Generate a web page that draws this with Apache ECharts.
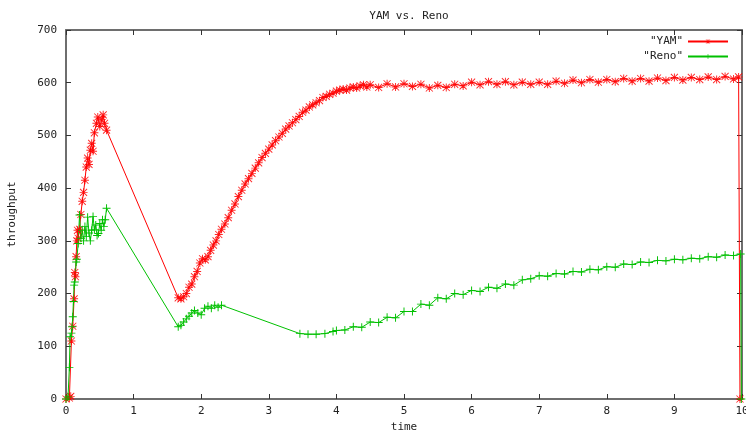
<!DOCTYPE html>
<html>
<head>
<meta charset="utf-8">
<script src="https://cdn.jsdelivr.net/npm/echarts@6/dist/echarts.min.js"></script>
<style>
  html, body { margin: 0; padding: 0; background: #fff; }
  #main { width: 746px; height: 432px; }
</style>
</head>
<body>
<div id="main"></div>
<script>
// YAM vs. Reno - throughput over time
var yamTime = [0, 0.05, 0.07, 0.08, 0.1, 0.12, 0.13, 0.14, 0.15, 0.16, 0.17, 0.18, 0.2, 0.22, 0.24, 0.26, 0.28, 0.3, 0.32, 0.34, 0.36, 0.38, 0.4, 0.42, 0.45, 0.47, 0.5, 0.53, 0.55, 0.57, 0.6,
    1.66, 1.7, 1.74, 1.78, 1.82, 1.86, 1.9, 1.94, 1.98, 2.02, 2.06, 2.1, 2.14, 2.18, 2.22, 2.26, 2.3, 2.35, 2.4, 2.45, 2.5, 2.55, 2.6, 2.65, 2.7, 2.75, 2.8, 2.85, 2.9, 2.95,
    3.0, 3.05, 3.1, 3.15, 3.2, 3.25, 3.3, 3.35, 3.4, 3.45, 3.5, 3.55, 3.6, 3.65, 3.7, 3.75, 3.8, 3.85, 3.9, 3.95, 4.0, 4.05, 4.1, 4.15, 4.2, 4.25, 4.3, 4.35, 4.4, 4.45,
    4.5, 4.625, 4.75, 4.875, 5.0, 5.125, 5.25, 5.375, 5.5, 5.625, 5.75, 5.875, 6.0, 6.125, 6.25, 6.375, 6.5, 6.625, 6.75, 6.875,
    7.0, 7.125, 7.25, 7.375, 7.5, 7.625, 7.75, 7.875, 8.0, 8.125, 8.25, 8.375, 8.5, 8.625, 8.75, 8.875,
    9.0, 9.125, 9.25, 9.375, 9.5, 9.625, 9.75, 9.875, 9.95, 9.97];
var yamValues = [0, 2, 5, 110, 138, 190, 240, 232, 270, 300, 320, 305, 322, 350, 375, 392, 415, 440, 457, 445, 472, 485, 470, 505, 523, 535, 517, 530, 539, 523, 510,
    192, 190, 194, 200, 212, 218, 232, 242, 258, 266, 264, 270, 282, 292, 300, 312, 322, 332, 344, 358, 370, 384, 396, 408, 418, 428, 438, 448, 458, 466,
    474, 482, 490, 497, 504, 512, 518, 524, 530, 536, 544, 548, 554, 558, 562, 566, 572, 574, 578, 580, 584, 586, 588, 586, 590, 592, 590, 594, 596, 592,
    596, 591, 598, 592, 598, 593, 597, 590, 595, 591, 597, 594, 601, 596, 602, 597, 602, 596, 601, 597,
    601, 597, 603, 599, 605, 600, 606, 601, 606, 602, 608, 603, 608, 603, 609, 604,
    610, 605, 610, 606, 611, 606, 612, 607, 611, 0];

var renoTime = [0, 0.03, 0.05, 0.06, 0.08, 0.09, 0.1, 0.11, 0.12, 0.13, 0.15, 0.16, 0.18, 0.2, 0.22, 0.24, 0.26, 0.28, 0.3, 0.32, 0.34, 0.36, 0.38, 0.4, 0.42, 0.44, 0.46, 0.48, 0.5, 0.52, 0.54, 0.56, 0.58, 0.6,
    1.66, 1.7, 1.74, 1.78, 1.82, 1.86, 1.9, 1.95, 2.0, 2.05, 2.1, 2.15, 2.2, 2.25, 2.3,
    3.46, 3.58, 3.7, 3.83, 3.95,
    4.0, 4.125, 4.25, 4.375, 4.5, 4.625, 4.75, 4.875, 5.0, 5.125, 5.25, 5.375, 5.5, 5.625, 5.75, 5.875,
    6.0, 6.125, 6.25, 6.375, 6.5, 6.625, 6.75, 6.875, 7.0, 7.125, 7.25, 7.375, 7.5, 7.625, 7.75, 7.875,
    8.0, 8.125, 8.25, 8.375, 8.5, 8.625, 8.75, 8.875, 9.0, 9.125, 9.25, 9.375, 9.5, 9.625, 9.75, 9.875, 9.98, 9.99];
var renoValues = [0, 4, 60, 118, 125, 137, 156, 185, 216, 222, 260, 265, 295, 349, 305, 320, 300, 327, 308, 345, 315, 300, 320, 346, 321, 330, 310, 314, 333, 320, 340, 327, 340, 362,
    137, 140, 146, 152, 157, 163, 168, 163, 160, 172, 176, 172, 178, 174, 178,
    124, 123, 123, 124, 128,
    130, 131, 137, 136, 146, 145, 155, 154, 166, 166, 180, 178, 192, 190, 200, 198,
    206, 204, 212, 210, 218, 216, 226, 228, 234, 233, 238, 237, 242, 241, 246, 245,
    251, 250, 256, 255, 260, 259, 263, 262, 265, 264, 267, 266, 270, 269, 273, 272, 275, 0];

function zip(t, v) {
    var out = [];
    for (var i = 0; i < t.length; i++) { out.push([t[i], v[i]]); }
    return out;
}

var starPath = 'path://M4.4,0H5.6V4.4H10V5.6H5.6V10H4.4V5.6H0V4.4H4.4Z M1,0.2L9.8,9L9,9.8L0.2,1Z M9,0.2L9.8,1L1,9.8L0.2,9Z';
var plusPath = 'path://M4.4,0H5.6V4.4H10V5.6H5.6V10H4.4V5.6H0V4.4H4.4Z';

var monoFont = 'DejaVu Sans Mono';
var axisColor = '#6e6e6e';

var myChart = echarts.init(document.getElementById('main'));
myChart.setOption({
    animation: false,
    backgroundColor: '#ffffff',
    title: {
        text: 'YAM vs. Reno',
        left: 404,
        top: 6,
        textAlign: 'center',
        textStyle: { fontFamily: monoFont, fontSize: 11, fontWeight: 'normal', color: '#222' }
    },
    legend: {
        orient: 'vertical',
        right: 12,
        top: 31,
        align: 'right',
        itemWidth: 40,
        itemHeight: 6,
        itemGap: 4,
        textStyle: { fontFamily: monoFont, fontSize: 11, color: '#222' },
        data: ['"YAM"', '"Reno"']
    },
    grid: { left: 66, right: 4, top: 30, bottom: 33, outerBoundsMode: 'none', containLabel: false },
    xAxis: [{
        type: 'value',
        min: 0, max: 10, interval: 1,
        name: 'time',
        nameLocation: 'middle',
        nameGap: 19,
        nameTextStyle: { fontFamily: monoFont, fontSize: 11, color: '#222' },
        axisLine: { show: true, onZero: false, lineStyle: { color: axisColor, width: 2 } },
        axisTick: { inside: true, length: 5, lineStyle: { color: '#333' } },
        axisLabel: { fontFamily: monoFont, fontSize: 11, color: '#222', margin: 7 },
        splitLine: { show: false }
    }, {
        type: 'value',
        position: 'top',
        min: 0, max: 10, interval: 1,
        axisLine: { show: true, onZero: false, lineStyle: { color: axisColor, width: 2 } },
        axisTick: { inside: true, length: 5, lineStyle: { color: '#333' } },
        axisLabel: { show: false },
        splitLine: { show: false }
    }],
    yAxis: [{
        type: 'value',
        min: 0, max: 700, interval: 100,
        name: 'throughput',
        nameLocation: 'middle',
        nameGap: 48,
        nameTextStyle: { fontFamily: monoFont, fontSize: 11, color: '#222' },
        axisLine: { show: true, onZero: false, lineStyle: { color: axisColor, width: 2 } },
        axisTick: { show: true, inside: true, length: 5, lineStyle: { color: '#333' } },
        axisLabel: { fontFamily: monoFont, fontSize: 11, color: '#222', margin: 9 },
        splitLine: { show: false }
    }, {
        type: 'value',
        position: 'right',
        min: 0, max: 700, interval: 100,
        axisLine: { show: true, onZero: false, lineStyle: { color: axisColor, width: 2 } },
        axisTick: { show: true, inside: true, length: 5, lineStyle: { color: '#333' } },
        axisLabel: { show: false },
        splitLine: { show: false }
    }],
    series: [{
        name: '"YAM"',
        type: 'line',
        xAxisIndex: 0,
        yAxisIndex: 0,
        data: zip(yamTime, yamValues),
        symbol: starPath,
        symbolSize: 8,
        showAllSymbol: true,
        color: '#ff0000',
        lineStyle: { width: 1, color: '#ff0000' },
        itemStyle: { color: '#ff0000', opacity: 0.85 }
    }, {
        name: '"Reno"',
        type: 'line',
        xAxisIndex: 0,
        yAxisIndex: 0,
        data: zip(renoTime, renoValues),
        symbol: plusPath,
        symbolSize: 8,
        showAllSymbol: true,
        color: '#00c000',
        lineStyle: { width: 1, color: '#00c000' },
        itemStyle: { color: '#00c000' }
    }]
});
</script>
</body>
</html>
